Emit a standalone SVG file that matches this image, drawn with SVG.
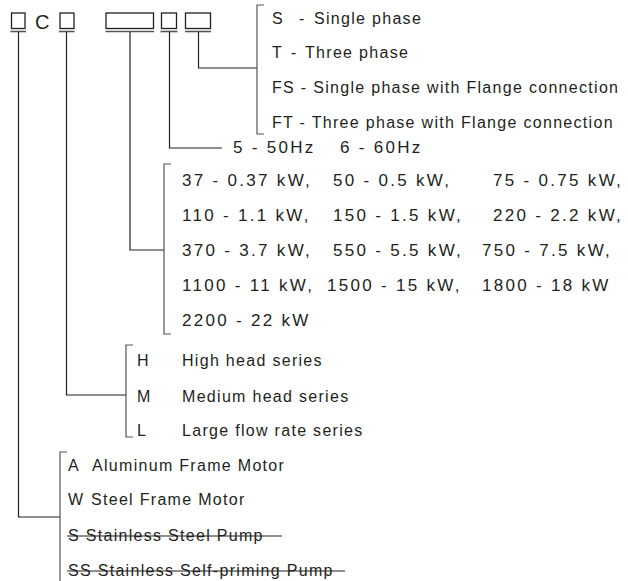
<svg xmlns="http://www.w3.org/2000/svg" width="628" height="581" viewBox="0 0 628 581">
<style>
.t{font-family:"Liberation Sans",Arial,sans-serif;font-size:16px;fill:#231f20;letter-spacing:1.3px}
.d{font-family:"Liberation Sans",Arial,sans-serif;font-size:17px;fill:#231f20;letter-spacing:2.3px}
.box{fill:none;stroke:#231f20;stroke-width:1.3}
.ul{stroke:#555;stroke-width:1.6}
.ln{fill:none;stroke:#231f20;stroke-width:1.2}
.br{fill:none;stroke:#555;stroke-width:1.2}
.st{stroke:#231f20;stroke-width:1.2}
</style>
<rect width="628" height="581" fill="#fff"/>
<g id="code">
<rect class="box" x="11.5" y="13" width="13.5" height="15.5"/>
<text x="35" y="28.5" style="font-family:'Liberation Sans',Arial,sans-serif;font-size:20px;fill:#231f20">C</text>
<rect class="box" x="60" y="13" width="14" height="15.5"/>
<rect class="box" x="106" y="13" width="47.5" height="15.5"/>
<rect class="box" x="161.5" y="13" width="15" height="15.5"/>
<rect class="box" x="185.5" y="13" width="25" height="15.5"/>
<line class="ul" x1="10.5" y1="31.5" x2="26" y2="31.5"/>
<line class="ul" x1="59" y1="31.5" x2="74.5" y2="31.5"/>
<line class="ul" x1="105.5" y1="31.5" x2="154" y2="31.5"/>
<line class="ul" x1="160.5" y1="31.5" x2="177.5" y2="31.5"/>
<line class="ul" x1="185" y1="31.5" x2="211" y2="31.5"/>
</g>
<g id="connectors">
<polyline class="ln" points="18.5,32 18.5,517 60,517"/>
<polyline class="ln" points="66.5,32 66.5,395 126,395"/>
<polyline class="ln" points="130,32 130,250 164,250"/>
<polyline class="ln" points="169.5,32 169.5,148 222,148"/>
<polyline class="ln" points="198.5,32 198.5,68 257,68"/>
</g>
<g id="phase">
<polyline class="br" points="264,5 257,5 257,134 264,134"/>
<text class="t" x="272" y="24">S<tspan x="299">-</tspan><tspan x="314">Single phase</tspan></text>
<text class="t" x="272" y="58">T<tspan x="291">-</tspan><tspan x="305">Three phase</tspan></text>
<text class="t" x="272" y="93">FS - Single phase with Flange connection</text>
<text class="t" x="272" y="128">FT - Three phase with Flange connection</text>
</g>
<g id="freq">
<text class="d" x="233" y="153">5 - 50Hz</text>
<text class="d" x="340" y="153">6 - 60Hz</text>
</g>
<g id="power">
<polyline class="br" points="171,164 164,164 164,334 171,334"/>
<text class="d" x="182" y="186">37 - 0.37 kW,</text>
<text class="d" x="333" y="186">50 - 0.5 kW,</text>
<text class="d" x="493" y="186">75 - 0.75 kW,</text>
<text class="d" x="182" y="221">110 - 1.1 kW,</text>
<text class="d" x="333" y="221">150 - 1.5 kW,</text>
<text class="d" x="493" y="221">220 - 2.2 kW,</text>
<text class="d" x="182" y="256">370 - 3.7 kW,</text>
<text class="d" x="333" y="256">550 - 5.5 kW,</text>
<text class="d" x="482" y="256">750 - 7.5 kW,</text>
<text class="d" x="182" y="291">1100 - 11 kW,</text>
<text class="d" x="327" y="291">1500 - 15 kW,</text>
<text class="d" x="482" y="291">1800 - 18 kW</text>
<text class="d" x="182" y="326">2200 - 22 kW</text>
</g>
<g id="series">
<polyline class="br" points="133,345 126,345 126,437 133,437"/>
<text class="t" x="137" y="366">H</text><text class="t" x="182" y="366">High head series</text>
<text class="t" x="137" y="402">M</text><text class="t" x="182" y="402">Medium head series</text>
<text class="t" x="137" y="436">L</text><text class="t" x="182" y="436">Large flow rate series</text>
</g>
<g id="material">
<polyline class="br" points="67,452 60,452 60,581"/>
<text class="t" x="68" y="471">A<tspan x="92">Aluminum Frame Motor</tspan></text>
<text class="t" x="68" y="505">W<tspan x="91">Steel Frame Motor</tspan></text>
<text class="t" x="68" y="541">S Stainless Steel Pump</text>
<line class="st" x1="67" y1="536" x2="282" y2="536"/>
<text class="t" x="68" y="576">SS Stainless Self-priming Pump</text>
<line class="st" x1="67" y1="571" x2="345" y2="571"/>
</g>
</svg>
